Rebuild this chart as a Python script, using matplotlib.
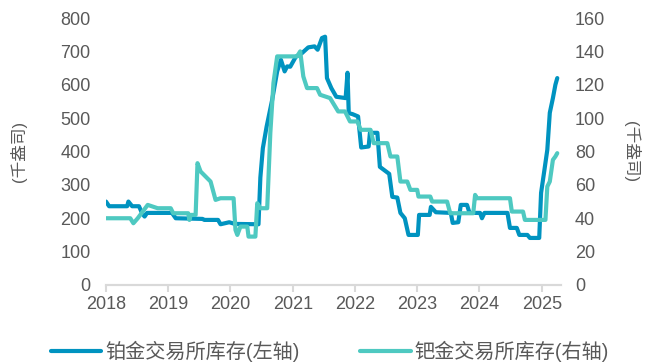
import matplotlib
matplotlib.use("Agg")
import matplotlib.pyplot as plt

plt.rcParams['font.family'] = ['Liberation Sans', 'Noto Sans CJK SC', 'DejaVu Sans']

# Platinum exchange stocks (left axis, thousand oz)
pt_years = [2018.00, 2018.05, 2018.34, 2018.36, 2018.42, 2018.53, 2018.58, 2018.62, 2018.66,
            2019.06, 2019.12, 2019.55, 2019.58, 2019.80, 2019.84, 2019.98, 2020.07, 2020.45,
            2020.48, 2020.52, 2020.58, 2020.67, 2020.75, 2020.81, 2020.87, 2020.91, 2020.96,
            2021.05, 2021.15, 2021.25, 2021.35, 2021.40, 2021.47, 2021.52, 2021.55, 2021.62,
            2021.70, 2021.85, 2021.88, 2021.90, 2021.96, 2022.05, 2022.10, 2022.22, 2022.24,
            2022.36, 2022.40, 2022.55, 2022.60, 2022.68, 2022.73, 2022.80, 2022.86, 2023.01,
            2023.03, 2023.20, 2023.22, 2023.30, 2023.54, 2023.57, 2023.66, 2023.70, 2023.80,
            2023.84, 2024.01, 2024.04, 2024.08, 2024.12, 2024.45, 2024.49, 2024.60, 2024.64,
            2024.77, 2024.81, 2024.96, 2024.99, 2025.04, 2025.09, 2025.13, 2025.18, 2025.22,
            2025.25]
pt_values = [250, 236, 236, 250, 236, 236, 215, 205, 216,
             216, 200, 198, 195, 195, 182, 188, 183, 182,
             322, 410, 474, 555, 640, 675, 640, 655, 654,
             684, 695, 712, 715, 705, 740, 744, 620, 590,
             564, 560, 636, 515, 512, 505, 412, 415, 456,
             456, 354, 333, 264, 262, 216, 200, 150, 150,
             210, 210, 234, 218, 216, 186, 188, 240, 240,
             216, 216, 200, 216, 216, 216, 171, 171, 150,
             150, 141, 141, 276, 340, 405, 516, 560, 600,
             620]

# Palladium exchange stocks (right axis, thousand oz)
pd_years = [2018.00, 2018.39, 2018.44, 2018.51, 2018.67, 2018.83, 2019.04, 2019.08, 2019.32,
            2019.34, 2019.36, 2019.44, 2019.47, 2019.52, 2019.60, 2019.68, 2019.76, 2019.84,
            2020.05, 2020.08, 2020.11, 2020.16, 2020.27, 2020.29, 2020.40, 2020.43, 2020.48,
            2020.59, 2020.64, 2020.69, 2020.75, 2021.07, 2021.12, 2021.17, 2021.23, 2021.39,
            2021.44, 2021.60, 2021.73, 2021.84, 2021.92, 2022.04, 2022.09, 2022.25, 2022.30,
            2022.52, 2022.57, 2022.68, 2022.73, 2022.84, 2022.89, 2023.00, 2023.02, 2023.21,
            2023.24, 2023.48, 2023.53, 2023.90, 2023.93, 2023.96, 2024.49, 2024.52, 2024.70,
            2024.73, 2025.06, 2025.09, 2025.13, 2025.18, 2025.22, 2025.25]
pd_values = [40, 40, 37, 40, 48, 46, 46, 43, 43,
             39, 42, 42, 73, 68, 65, 62, 51, 52,
             52, 33, 30, 35, 35, 29, 29, 49, 46,
             46, 91, 121, 137, 137, 140, 125, 118, 118,
             114, 112, 104, 104, 98, 98, 93, 93, 85,
             85, 77, 77, 62, 62, 57, 57, 53, 53,
             50, 50, 43, 43, 54, 52, 52, 44, 44,
             39, 39, 59, 62, 75, 77, 79]

year_ticks = [2018, 2019, 2020, 2021, 2022, 2023, 2024, 2025]
left_ticks = [0, 100, 200, 300, 400, 500, 600, 700, 800]
right_ticks = [0, 20, 40, 60, 80, 100, 120, 140, 160]

pt_color = '#0093C0'
pd_color = '#4EC9C1'
text_color = '#595959'

fig = plt.figure(figsize=(6.6, 3.63), dpi=100)
ax = fig.add_axes([0.1606, 0.2149, 0.6894, 0.7355])
ax2 = ax.twinx()

l1, = ax.plot(pt_years, pt_values, color=pt_color, lw=3.0, solid_joinstyle='round',
              solid_capstyle='round', label='铂金交易所库存(左轴)', zorder=2)
l2, = ax2.plot(pd_years, pd_values, color=pd_color, lw=3.0, solid_joinstyle='round',
               solid_capstyle='round', label='钯金交易所库存(右轴)', zorder=3)

ax.set_xlim(2018.0, 2025.31)
ax.set_ylim(0, 800)
ax2.set_ylim(0, 160)
ax.set_xticks(year_ticks)
ax.set_xticklabels([str(y) for y in year_ticks])
ax.set_yticks(left_ticks)
ax2.set_yticks(right_ticks)

for a in (ax, ax2):
    for s in ('top', 'left', 'right'):
        a.spines[s].set_visible(False)
    a.spines['bottom'].set_color('#D9D9D9')
    a.spines['bottom'].set_linewidth(1.5)

ax.tick_params(axis='x', colors='#D9D9D9', length=5, width=1.5, labelcolor=text_color,
               labelsize=13, pad=3)
ax.tick_params(axis='y', length=0, labelcolor=text_color, labelsize=13, pad=11)
ax2.tick_params(axis='y', length=0, labelcolor=text_color, labelsize=13, pad=10)

ax.set_ylabel('(千盎司)', color=text_color, fontsize=12, labelpad=24)
ax2.set_ylabel('(千盎司)', color=text_color, fontsize=12, rotation=270, labelpad=25)

fig.legend(handles=[l1, l2], loc='center', bbox_to_anchor=(0.5, 0.033), ncol=2,
           frameon=False, fontsize=14.5, handlelength=2.5, handletextpad=0.2,
           columnspacing=3.0, labelcolor=text_color)

fig.savefig('out.png', dpi=100)
